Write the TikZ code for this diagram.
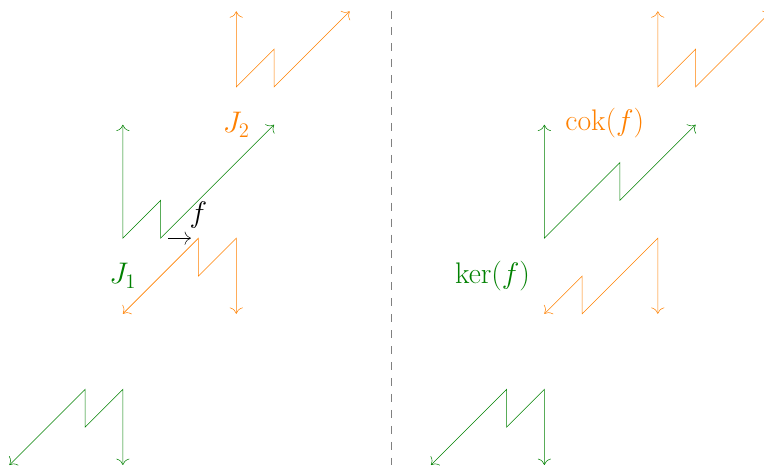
\documentclass[tikz,border=0pt]{standalone}
\usetikzlibrary{arrows.meta}

\begin{document}
\begin{tikzpicture}[x=1cm,y=1cm,>={To[scale=1.9]},
  kerc/.style={green!50!black},
  cokc/.style={orange},
  every node/.style={font=\huge,scale=1.08}]
  \clip (-3.25,-6.03) rectangle (16.96,6.3);
  % left: the map f between J_1 and J_2
  \draw[kerc,<->] (0,3) -- (0,0) -- (1,1) -- (1,0) -- (4,3);
  \draw[cokc,<->] (0,-2) -- (2,0) -- (2,-1) -- (3,0) -- (3,-2);
  \draw[cokc,<->] (3,6) -- (3,4) -- (4,5) -- (4,4) -- (6,6);
  \draw[kerc,<->] (-3,-6) -- (-1,-4) -- (-1,-5) -- (0,-4) -- (0,-6);
  \node[kerc] (jone) at (0,-1) {$J_1$};
  \node[cokc] (jtwo) at (3,3) {$J_2$};
  \coordinate (fsrc) at (1.2,0);
  \coordinate (ftgt) at (1.8,0);
  \draw[->] (fsrc) -- (ftgt);
  \node (fmap) at (2.0,0.6) {$f$};
  % separator
  \draw[gray,dash pattern=on 6pt off 6pt] (7.1,6) -- (7.1,-6);
  % right: kernel and cokernel
  \begin{scope}[xshift=11.15cm]
    \draw[kerc,<->] (0,3) -- (0,0) -- (2,2) -- (2,1) -- (4,3);
    \draw[cokc,<->] (0,-2) -- (1,-1) -- (1,-2) -- (3,0) -- (3,-2);
    \draw[cokc,<->] (3,6) -- (3,4) -- (4,5) -- (4,4) -- (6,6);
    \draw[kerc,<->] (-3,-6) -- (-1,-4) -- (-1,-5) -- (0,-4) -- (0,-6);
    \node[kerc] (kerf) at (-1.37,-1) {$\ker(f)$};
    \node[cokc] (cokf) at (1.6,3.05) {$\mathrm{cok}(f)$};
  \end{scope}
\end{tikzpicture}
\end{document}
